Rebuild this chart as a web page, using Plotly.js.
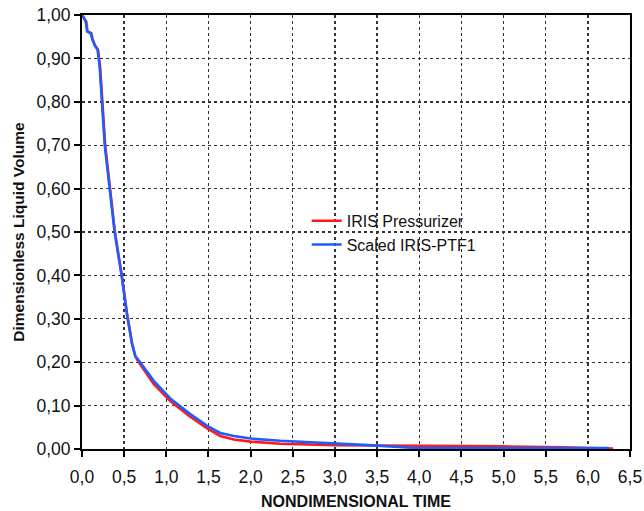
<!DOCTYPE html>
<html>
<head>
<meta charset="utf-8">
<script src="https://cdn.plot.ly/plotly-3.0.1.min.js"></script>
<style>html,body{margin:0;padding:0;background:#fff;}#chart{width:644px;height:511px;}</style>
</head>
<body>
<div id="chart"></div>
<script>
var seriesNames = ["IRIS Pressurizer", "Scaled IRIS-PTF1"];
var xRed = [0, 0.05, 0.065, 0.11, 0.125, 0.155, 0.19, 0.215, 0.275, 0.35, 0.39, 0.475, 0.535, 0.595, 0.635, 0.69, 0.77, 0.85, 1.05, 1.28, 1.48, 1.64, 1.8, 2.0, 2.35, 2.7, 3.0, 3.5, 4.0, 4.5, 5.0, 5.5, 5.7, 6.0, 6.3];
var yRed = [1.0, 0.985, 0.962, 0.958, 0.945, 0.93, 0.92, 0.88, 0.70, 0.575, 0.50, 0.395, 0.31, 0.242, 0.212, 0.195, 0.173, 0.15, 0.11, 0.075, 0.048, 0.030, 0.022, 0.017, 0.012, 0.010, 0.009, 0.008, 0.008, 0.007, 0.006, 0.005, 0.004, 0.002, 0.001];
var xBlue = [0, 0.045, 0.06, 0.105, 0.12, 0.15, 0.185, 0.21, 0.27, 0.345, 0.385, 0.47, 0.53, 0.59, 0.63, 0.69, 0.77, 0.85, 1.05, 1.28, 1.48, 1.64, 1.8, 2.0, 2.35, 2.7, 3.0, 3.4, 3.9, 4.5, 5.0, 5.5, 6.0, 6.25];
var yBlue = [1.0, 0.985, 0.962, 0.958, 0.945, 0.93, 0.92, 0.88, 0.70, 0.578, 0.503, 0.4, 0.315, 0.246, 0.215, 0.2, 0.179, 0.157, 0.116, 0.081, 0.054, 0.037, 0.03, 0.024, 0.019, 0.016, 0.013, 0.009, 0.003, 0.002, 0.002, 0.002, 0.002, 0.002];

var traces = [
  {x: xRed, y: yRed, name: seriesNames[0], type: "scatter", mode: "lines", line: {color: "#ff1a1a", width: 2.6}},
  {x: xBlue, y: yBlue, name: seriesNames[1], type: "scatter", mode: "lines", line: {color: "#1f5cff", width: 2.6}}
];

var FONT = "Liberation Sans, Arial, sans-serif";
var axisCommon = {
  showline: true, linecolor: "#000", linewidth: 2, mirror: true,
  ticks: "outside", ticklen: 6, tickwidth: 2, tickcolor: "#000",
  showgrid: true, gridcolor: "#333", gridwidth: 1.4, griddash: "dot",
  zeroline: false,
  tickfont: {family: FONT, size: 17.5, color: "#111"}
};

var layout = {
  width: 644, height: 511,
  margin: {l: 82, r: 14, t: 15, b: 62},
  paper_bgcolor: "#fff", plot_bgcolor: "#fff",
  separators: ", ",
  showlegend: true,
  legend: {x: 0.41, y: 0.565, xanchor: "left", yanchor: "top", bgcolor: "rgba(0,0,0,0)",
           font: {family: FONT, size: 16, color: "#111"}, tracegroupgap: 0},
  xaxis: Object.assign({}, axisCommon, {range: [0, 6.5], dtick: 0.5, tick0: 0, tickformat: ".1f", ticklabelstandoff: 5,
    title: {text: "NONDIMENSIONAL TIME", standoff: 10, font: {family: FONT, size: 16, color: "#111", weight: "bold"}}}),
  yaxis: Object.assign({}, axisCommon, {range: [0, 1.0], dtick: 0.1, tick0: 0, tickformat: ".2f",
    title: {text: "Dimensionless Liquid Volume", standoff: 8, font: {family: FONT, size: 15.5, color: "#111", weight: "bold"}}})
};

Plotly.newPlot("chart", traces, layout, {displayModeBar: false, staticPlot: true});
</script>
</body>
</html>
